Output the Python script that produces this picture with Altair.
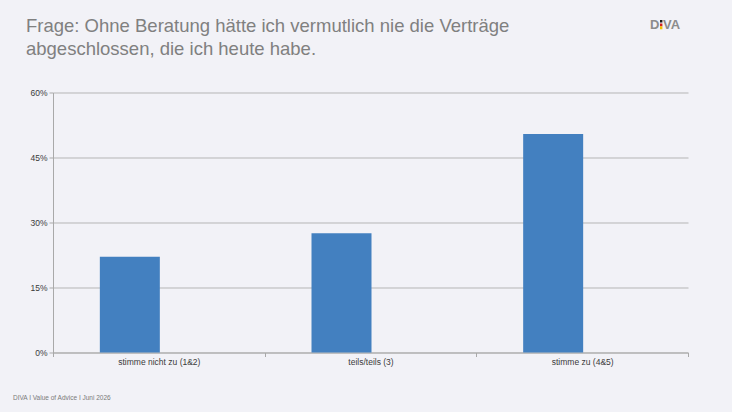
import altair as alt
import pandas as pd

categories = ["stimme nicht zu (1&2)", "teils/teils (3)", "stimme zu (4&5)"]
values = [0.221, 0.275, 0.504]
title_lines = ["Frage: Ohne Beratung hätte ich vermutlich nie die Verträge",
               "abgeschlossen, die ich heute habe."]
footer = ["DIVA I Value of Advice  I Juni 2026"]
y_ticks = [0, 0.15, 0.30, 0.45, 0.60]

df = pd.DataFrame({"kategorie": categories, "anteil": values})

L, T = 53, 92.5
W, H = 635, 260
GREY = "#a9a9a9"
FONT = "Liberation Sans"

bars = alt.Chart(df).mark_bar(size=60, xOffset=-29, color="#4380c0").encode(
    x=alt.X("kategorie:N", sort=categories,
            scale=alt.Scale(paddingInner=0, paddingOuter=0),
            axis=alt.Axis(title=None, labelAngle=0, tickBand="extent", tickSize=4,
                          labelPadding=1, domainColor=GREY, tickColor=GREY,
                          labelFont=FONT, labelFontSize=8.5, labelColor="#3a3a3a")),
    y=alt.Y("anteil:Q", scale=alt.Scale(domain=[0, 0.6]),
            axis=alt.Axis(title=None, values=y_ticks, format=".0%", tickSize=4,
                          labelPadding=2, domainColor=GREY, tickColor=GREY,
                          gridColor="#b5b5b5", labelFont=FONT, labelFontSize=8.5,
                          labelColor="#3a3a3a")),
)

title = alt.Chart(pd.DataFrame({"t": ["\n".join(title_lines)]})).mark_text(
    align="left", baseline="alphabetic", font=FONT, fontSize=18.5, color="#808080",
    lineBreak="\n", lineHeight=23,
).encode(text="t:N", x=alt.value(26 - L), y=alt.value(31.5 - T))

foot = alt.Chart(pd.DataFrame({"t": footer})).mark_text(
    align="left", baseline="middle", font=FONT, fontSize=6.5, color="#7a7a7a",
).encode(text="t:N", x=alt.value(13 - L), y=alt.value(398 - T))

logo_d = alt.Chart(pd.DataFrame({"t": ["D"]})).mark_text(
    align="left", baseline="alphabetic", font=FONT, fontSize=13, fontWeight="bold",
    color="#8c8c8c",
).encode(text="t:N", x=alt.value(650 - L), y=alt.value(29.3 - T))

logo_va = alt.Chart(pd.DataFrame({"t": ["VA"]})).mark_text(
    align="left", baseline="alphabetic", font=FONT, fontSize=13, fontWeight="bold",
    color="#8c8c8c",
).encode(text="t:N", x=alt.value(663 - L), y=alt.value(29.3 - T))

IX = 661.2
i_black = alt.Chart(pd.DataFrame({"t": [1]})).mark_rule(strokeWidth=2.4, color="#1a1a1a").encode(
    x=alt.value(IX - L), y=alt.value(20 - T), y2=alt.value(22.5 - T))
i_red = alt.Chart(pd.DataFrame({"t": [1]})).mark_rule(strokeWidth=2.4, color="#d2231f").encode(
    x=alt.value(IX - L), y=alt.value(23.5 - T), y2=alt.value(26.3 - T))
i_gold = alt.Chart(pd.DataFrame({"t": [1]})).mark_rule(strokeWidth=2.4, color="#f2c200").encode(
    x=alt.value(IX - L), y=alt.value(26.3 - T), y2=alt.value(29.3 - T))

chart = alt.layer(bars, title, foot, logo_d, logo_va, i_black, i_red, i_gold).properties(
    width=W, height=H,
    autosize=alt.AutoSizeParams(type="none"),
    padding={"left": L, "top": T, "right": 732 - L - W, "bottom": 412 - T - H},
    background="#f2f2f7",
).configure_view(stroke=None)

chart.save("out.html", embed_options={"renderer": "svg", "actions": False})
